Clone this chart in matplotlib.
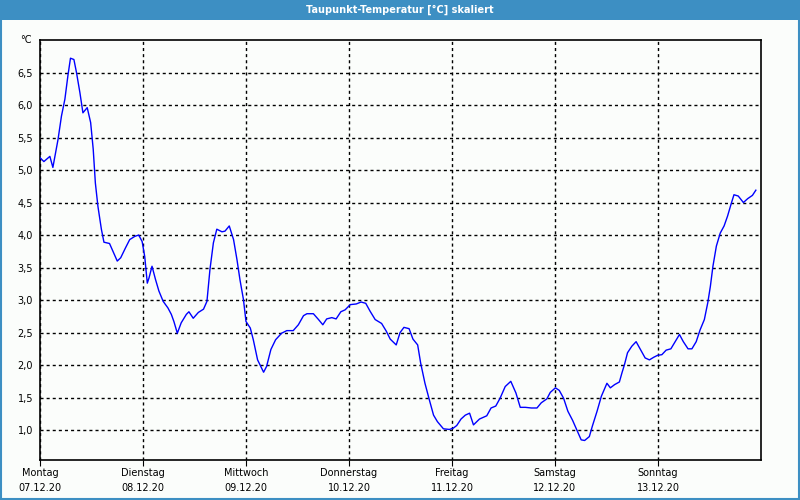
import matplotlib
matplotlib.use('Agg')
import matplotlib.pyplot as plt
from matplotlib.patches import Rectangle

# hours since Monday 07.12.20 00:00
hours = [
    0, 0.9, 2.3, 3.0, 4.2, 5.0, 5.8, 6.5, 7.1, 7.9, 8.5, 9.3, 10.0, 11.0, 11.8,
    12.4, 12.9, 13.5, 14.3, 14.9, 16.2, 17.0, 18.0, 18.8, 19.9, 20.9, 22.1, 23.0,
    23.8, 24.4, 25.0, 25.4, 26.1, 26.9, 27.7, 28.7, 29.8, 30.6, 31.2, 32.0, 32.9,
    34.1, 34.7, 35.7, 36.9, 38.1, 38.9, 39.6, 40.4, 41.2, 42.4, 43.1, 44.1, 45.1,
    45.9, 46.6, 47.4, 48.0, 49.0, 49.7, 50.7, 52.1, 52.8, 53.8, 54.9, 56.3, 57.5,
    59.0, 60.2, 61.4, 62.2, 63.7, 64.9, 65.9, 66.8, 68.0, 69.0, 70.1, 71.1, 72.3,
    73.7, 74.8, 75.9, 76.9, 78.1, 79.6, 80.7, 81.6, 83.0, 83.9, 84.8, 86.0, 86.9,
    88.0, 88.7, 89.7, 90.7, 91.7, 92.6, 94.0, 95.4, 96.3, 97.1, 98.1, 99.1, 100.1,
    101.0, 102.4, 104.1, 105.1, 106.2, 107.2, 108.4, 109.7, 110.9, 111.9, 113.1,
    114.5, 115.8, 116.8, 118.1, 118.9, 120.1, 121.0, 122.0, 123.0, 124.1, 125.1,
    126.1, 126.9, 128.0, 128.7, 129.8, 130.8, 132.1, 132.9, 133.9, 135.0, 135.6,
    136.2, 136.9, 137.9, 138.9, 139.9, 141.0, 142.0, 143.0, 143.9, 144.9, 145.9,
    147.0, 148.0, 149.0, 149.9, 151.0, 151.9, 152.9, 153.8, 154.8, 155.6, 156.2,
    156.8, 157.6, 158.5, 159.4, 160.2, 161.0, 161.7, 162.7, 163.9, 164.9, 166.0,
    166.8,
]
taupunkt = [
    5.19, 5.13, 5.21, 5.04, 5.47, 5.83, 6.09, 6.45, 6.72, 6.70, 6.50, 6.19, 5.88,
    5.96, 5.73, 5.32, 4.80, 4.44, 4.09, 3.89, 3.87, 3.75, 3.60, 3.65, 3.80, 3.93,
    3.98, 4.00, 3.90, 3.67, 3.26, 3.34, 3.52, 3.32, 3.14, 2.98, 2.88, 2.78, 2.67,
    2.49, 2.65, 2.78, 2.82, 2.72, 2.81, 2.86, 2.98, 3.47, 3.88, 4.09, 4.05, 4.06,
    4.14, 3.93, 3.62, 3.31, 3.01, 2.67, 2.57, 2.39, 2.08, 1.89, 1.98, 2.24, 2.39,
    2.49, 2.53, 2.53, 2.62, 2.76, 2.79, 2.79, 2.70, 2.62, 2.71, 2.73, 2.71, 2.82,
    2.85, 2.93, 2.94, 2.97, 2.95, 2.83, 2.70, 2.64, 2.52, 2.40, 2.31, 2.50, 2.58,
    2.56, 2.40, 2.31, 2.03, 1.72, 1.47, 1.23, 1.13, 1.02, 1.01, 1.03, 1.07, 1.17,
    1.23, 1.26, 1.08, 1.17, 1.22, 1.34, 1.37, 1.49, 1.67, 1.75, 1.57, 1.35, 1.35,
    1.34, 1.34, 1.42, 1.48, 1.58, 1.65, 1.61, 1.49, 1.29, 1.15, 1.00, 0.85, 0.84,
    0.90, 1.06, 1.29, 1.52, 1.72, 1.65, 1.70, 1.74, 1.88, 2.01, 2.19, 2.29, 2.36,
    2.24, 2.11, 2.08, 2.12, 2.15, 2.16, 2.23, 2.25, 2.36, 2.47, 2.36, 2.25, 2.25,
    2.36, 2.54, 2.70, 2.96, 3.21, 3.52, 3.83, 4.03, 4.14, 4.29, 4.47, 4.62, 4.60,
    4.50, 4.56, 4.61, 4.69,
]
day_names = ['Montag', 'Dienstag', 'Mittwoch', 'Donnerstag', 'Freitag', 'Samstag', 'Sonntag']
day_dates = ['07.12.20', '08.12.20', '09.12.20', '10.12.20', '11.12.20', '12.12.20', '13.12.20']
y_ticks = [1.0, 1.5, 2.0, 2.5, 3.0, 3.5, 4.0, 4.5, 5.0, 5.5, 6.0, 6.5]

TITLE_BLUE = '#3d8fc3'

fig = plt.figure(figsize=(8, 5), dpi=100, facecolor='#fbfdfb')

# title bar and frame
fig.patches.append(Rectangle((0, 0.96), 1, 0.04, transform=fig.transFigure,
                             facecolor=TITLE_BLUE, edgecolor='none', zorder=0))
fig.patches.append(Rectangle((0.001, 0.002), 0.998, 0.996, transform=fig.transFigure,
                             facecolor='none', edgecolor=TITLE_BLUE, linewidth=1.5, zorder=0))
fig.text(0.5, 0.98, 'Taupunkt-Temperatur [°C] skaliert', color='white',
         ha='center', va='center', fontsize=7, fontweight='semibold')

ax = fig.add_axes([0.05, 0.08, 0.90125, 0.84])
ax.set_facecolor('#fbfdfb')
ax.plot(hours, taupunkt, color='#0000ff', linewidth=1, zorder=3)

ax.set_xlim(0, 168)
ax.set_ylim(0.54, 7.0)
ax.set_yticks(y_ticks)
ax.set_yticklabels([f'{v:.1f}'.replace('.', ',') for v in y_ticks], fontsize=7)
ax.set_xticks([24 * i for i in range(7)])
ax.set_xticklabels([f'{n}\n{d}' for n, d in zip(day_names, day_dates)],
                   fontsize=7, linespacing=1.6)
ax.tick_params(axis='y', length=0, pad=5)
ax.tick_params(axis='x', length=4, pad=2, direction='out')

ax.grid(True, color='black', linestyle=(0, (2.2, 2.2)), linewidth=1)
for sp in ax.spines.values():
    sp.set_color('black')
    sp.set_linewidth(1.2)

ax.text(-0.012, 1.0, '°C', transform=ax.transAxes, ha='right', va='center', fontsize=7)

plt.savefig('out.png', dpi=100, facecolor=fig.get_facecolor())
